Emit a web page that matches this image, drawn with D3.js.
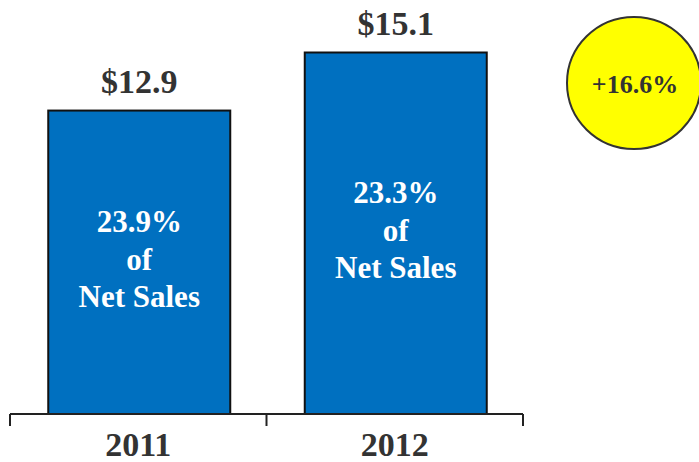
<!DOCTYPE html>
<html>
<head>
<meta charset="utf-8">
<script src="https://cdn.jsdelivr.net/npm/d3@7"></script>
<style>
  body { margin: 0; background: #fff; }
  text { font-family: "Liberation Serif", "Times New Roman", serif; font-weight: bold; }
</style>
</head>
<body>
<div id="chart"></div>
<script>
const width = 699, height = 462;

// data
const years = ["2011", "2012"];
const values = [12.9, 15.1];
const valueLabels = ["$12.9", "$15.1"];
const shareLabels = [["23.9%", "of", "Net Sales"], ["23.3%", "of", "Net Sales"]];
const growthLabel = "+16.6%";

const axisY = 414;

var x = d3.scaleBand()
    .domain(years)
    .range([10, 523])
    .padding(0);

// zero sits below the drawn baseline in the original, bars are cut at the axis
var y = d3.scaleLinear()
    .domain([0, 15.1])
    .range([451, 52.5]);

const barW = 182;

const svg = d3.select("#chart").append("svg")
    .attr("width", width)
    .attr("height", height);

// bars
svg.selectAll("rect.bar")
    .data(years)
    .enter().append("rect")
    .attr("class", "bar")
    .attr("x", (d, i) => x(d) + x.bandwidth() / 2 - barW / 2 + 1)
    .attr("y", (d, i) => y(values[i]))
    .attr("width", barW)
    .attr("height", (d, i) => axisY - y(values[i]))
    .attr("fill", "#0070C0")
    .attr("stroke", "#111")
    .attr("stroke-width", 2);

// axis: baseline with ticks at band edges
svg.append("line")
    .attr("x1", x.range()[0]).attr("x2", x.range()[1])
    .attr("y1", axisY).attr("y2", axisY)
    .attr("stroke", "#222").attr("stroke-width", 2);

const tickXs = years.map(d => x(d)).concat([x.range()[1]]);
svg.selectAll("line.tick")
    .data(tickXs)
    .enter().append("line")
    .attr("class", "tick")
    .attr("x1", d => d).attr("x2", d => d)
    .attr("y1", axisY).attr("y2", axisY + 12)
    .attr("stroke", "#222").attr("stroke-width", 2);

// year labels
svg.selectAll("text.year")
    .data(years)
    .enter().append("text")
    .attr("class", "year")
    .attr("x", d => x(d) + x.bandwidth() / 2)
    .attr("y", 456)
    .attr("text-anchor", "middle")
    .attr("font-size", 34)
    .attr("fill", "#333")
    .text(d => d);

// value labels above bars
svg.selectAll("text.val")
    .data(years)
    .enter().append("text")
    .attr("class", "val")
    .attr("x", d => x(d) + x.bandwidth() / 2 + 1)
    .attr("y", (d, i) => y(values[i]) - 18)
    .attr("text-anchor", "middle")
    .attr("font-size", 34)
    .attr("fill", "#333")
    .text((d, i) => valueLabels[i]);

// share of net sales inside bars
years.forEach(function (yr, i) {
    const cx = x(yr) + x.bandwidth() / 2 + 1;
    const base = (axisY + y(values[i])) / 2 - 30;
    svg.append("g")
        .selectAll("text")
        .data(shareLabels[i])
        .enter().append("text")
        .attr("x", cx)
        .attr("y", (d, j) => base + j * 37.5)
        .attr("text-anchor", "middle")
        .attr("font-size", 31)
        .attr("fill", "#fff")
        .text(d => d);
});

// growth bubble
svg.append("ellipse")
    .attr("cx", 634)
    .attr("cy", 83)
    .attr("rx", 67)
    .attr("ry", 66)
    .attr("fill", "#FFFF00")
    .attr("stroke", "#333")
    .attr("stroke-width", 2);

svg.append("text")
    .attr("x", 635)
    .attr("y", 93)
    .attr("text-anchor", "middle")
    .attr("font-size", 26)
    .attr("fill", "#333")
    .text(growthLabel);
</script>
</body>
</html>
